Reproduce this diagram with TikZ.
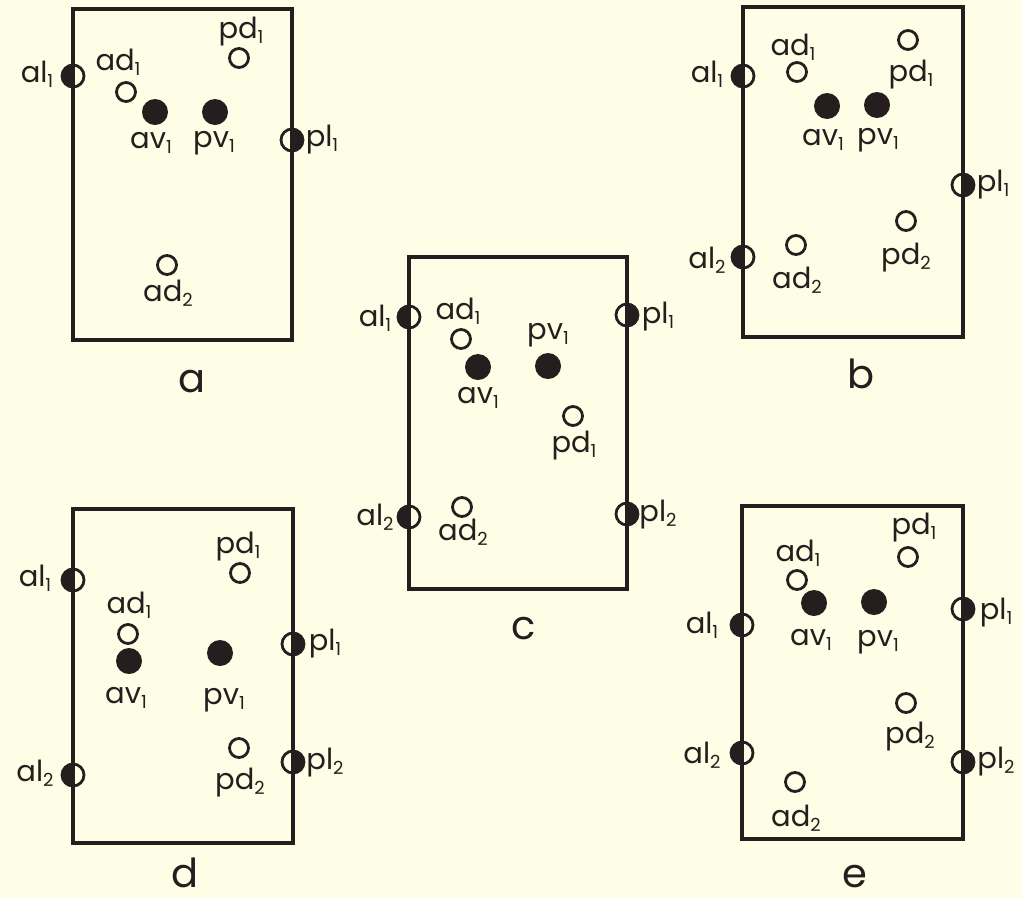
\documentclass[tikz,border=0pt]{standalone}
\usepackage{fontspec}
\setmainfont{Poppins}
\definecolor{bg}{RGB}{254,254,230}
\definecolor{ink}{RGB}{38,30,30}
\newcommand\sbs[1]{\raisebox{-0.3ex}{\fontsize{18}{18}\selectfont #1}}
\begin{document}
\begin{tikzpicture}[x=1pt,y=-1pt,
  frame/.style={draw=ink,line width=3.2pt},
  opend/.style={circle,draw=ink,line width=2.8pt,minimum size=19pt,inner sep=0pt},
  filledc/.style={circle,fill=ink,minimum size=26pt,inner sep=0pt},
  lhalf/.style={circle,draw=ink,line width=2.8pt,minimum size=22pt,inner sep=0pt,
    path picture={\fill[ink] (path picture bounding box.north west) rectangle (path picture bounding box.south);}},
  rhalf/.style={circle,draw=ink,line width=2.8pt,minimum size=22pt,inner sep=0pt,
    path picture={\fill[ink] (path picture bounding box.north) rectangle (path picture bounding box.south east);}},
  lab/.style={inner sep=0pt,text=ink,font=\fontsize{29}{32}\selectfont},
  captext/.style={inner sep=0pt,anchor=base,text=ink,font=\fontsize{40}{44}\selectfont}]
\fill[bg] (0,0) rectangle (1022,898);
\useasboundingbox (0,0) rectangle (1022,898);

% ---------- panel a ----------
\draw[frame] (73,9) rectangle (292,340);
\node[lhalf] (a-al1) at (73,76) {};
\node[opend] (a-ad1) at (126,92) {};
\node[filledc] (a-av1) at (155,112) {};
\node[filledc] (a-pv1) at (215,112) {};
\node[opend] (a-pd1) at (239,58) {};
\node[rhalf] (a-pl1) at (292,140) {};
\node[opend] (a-ad2) at (167,265) {};
\node[lab] (a-l-al1) at (37,74) {al\sbs{1}};
\node[lab] (a-l-ad1) at (118,62) {ad\sbs{1}};
\node[lab] (a-l-av1) at (151,143) {av\sbs{1}};
\node[lab] (a-l-pv1) at (214,143) {pv\sbs{1}};
\node[lab] (a-l-pd1) at (241,32) {pd\sbs{1}};
\node[lab] (a-l-pl1) at (322,140) {pl\sbs{1}};
\node[lab] (a-l-ad2) at (168,293) {ad\sbs{2}};
\node[captext] (a-cap) at (192,392) {a};

% ---------- panel b ----------
\draw[frame] (743,7) rectangle (963,337);
\node[lhalf] (b-al1) at (743,76) {};
\node[opend] (b-ad1) at (797,72) {};
\node[opend] (b-pd1) at (908,40) {};
\node[filledc] (b-av1) at (827,106) {};
\node[filledc] (b-pv1) at (877,105) {};
\node[rhalf] (b-pl1) at (963,185) {};
\node[opend] (b-pd2) at (906,221) {};
\node[lhalf] (b-al2) at (743,257) {};
\node[opend] (b-ad2) at (796,245) {};
\node[lab] (b-l-al1) at (707,74) {al\sbs{1}};
\node[lab] (b-l-ad1) at (793,47) {ad\sbs{1}};
\node[lab] (b-l-pd1) at (911,75) {pd\sbs{1}};
\node[lab] (b-l-av1) at (823,140) {av\sbs{1}};
\node[lab] (b-l-pv1) at (878,140) {pv\sbs{1}};
\node[lab] (b-l-pl1) at (993,185) {pl\sbs{1}};
\node[lab] (b-l-pd2) at (906,258) {pd\sbs{2}};
\node[lab] (b-l-al2) at (707,260) {al\sbs{2}};
\node[lab] (b-l-ad2) at (797,280) {ad\sbs{2}};
\node[captext] (b-cap) at (861,388) {b};

% ---------- panel c ----------
\draw[frame] (409,257) rectangle (627,589);
\node[lhalf] (c-al1) at (409,317) {};
\node[opend] (c-ad1) at (461,339) {};
\node[filledc] (c-av1) at (478,367) {};
\node[filledc] (c-pv1) at (548,366) {};
\node[opend] (c-pd1) at (573,416) {};
\node[rhalf] (c-pl1) at (627,315) {};
\node[lhalf] (c-al2) at (409,517) {};
\node[opend] (c-ad2) at (462,507) {};
\node[rhalf] (c-pl2) at (627,514) {};
\node[lab] (c-l-al1) at (375,318) {al\sbs{1}};
\node[lab] (c-l-ad1) at (458,311) {ad\sbs{1}};
\node[lab] (c-l-av1) at (478,398) {av\sbs{1}};
\node[lab] (c-l-pv1) at (548,335) {pv\sbs{1}};
\node[lab] (c-l-pd1) at (574,446) {pd\sbs{1}};
\node[lab] (c-l-pl1) at (658,317) {pl\sbs{1}};
\node[lab] (c-l-al2) at (375,517) {al\sbs{2}};
\node[lab] (c-l-ad2) at (463,532) {ad\sbs{2}};
\node[lab] (c-l-pl2) at (658,515) {pl\sbs{2}};
\node[captext] (c-cap) at (524,639) {c};

% ---------- panel d ----------
\draw[frame] (73,509) rectangle (293,843);
\node[lhalf] (d-al1) at (73,580) {};
\node[opend] (d-ad1) at (128,634) {};
\node[filledc] (d-av1) at (129,661) {};
\node[filledc] (d-pv1) at (220,653) {};
\node[opend] (d-pd1) at (240,573) {};
\node[rhalf] (d-pl1) at (293,644) {};
\node[opend] (d-pd2) at (239,748) {};
\node[rhalf] (d-pl2) at (293,762) {};
\node[lhalf] (d-al2) at (73,775) {};
\node[lab] (d-l-al1) at (35,578) {al\sbs{1}};
\node[lab] (d-l-ad1) at (129,605) {ad\sbs{1}};
\node[lab] (d-l-av1) at (126,698) {av\sbs{1}};
\node[lab] (d-l-pv1) at (224,700) {pv\sbs{1}};
\node[lab] (d-l-pd1) at (238,547) {pd\sbs{1}};
\node[lab] (d-l-pl1) at (325,644) {pl\sbs{1}};
\node[lab] (d-l-pd2) at (240,783) {pd\sbs{2}};
\node[lab] (d-l-pl2) at (325,763) {pl\sbs{2}};
\node[lab] (d-l-al2) at (35,773) {al\sbs{2}};
\node[captext] (d-cap) at (185,887) {d};

% ---------- panel e ----------
\draw[frame] (742,506) rectangle (963,839);
\node[opend] (e-pd1) at (908,557) {};
\node[opend] (e-ad1) at (797,580) {};
\node[filledc] (e-av1) at (814,603) {};
\node[filledc] (e-pv1) at (874,602) {};
\node[rhalf] (e-pl1) at (963,609) {};
\node[lhalf] (e-al1) at (742,625) {};
\node[opend] (e-pd2) at (906,703) {};
\node[lhalf] (e-al2) at (742,753) {};
\node[rhalf] (e-pl2) at (963,762) {};
\node[opend] (e-ad2) at (795,782) {};
\node[lab] (e-l-pd1) at (914,528) {pd\sbs{1}};
\node[lab] (e-l-ad1) at (798,553) {ad\sbs{1}};
\node[lab] (e-l-av1) at (811,640) {av\sbs{1}};
\node[lab] (e-l-pv1) at (878,642) {pv\sbs{1}};
\node[lab] (e-l-pl1) at (996,613) {pl\sbs{1}};
\node[lab] (e-l-al1) at (702,625) {al\sbs{1}};
\node[lab] (e-l-pd2) at (910,737) {pd\sbs{2}};
\node[lab] (e-l-al2) at (702,755) {al\sbs{2}};
\node[lab] (e-l-pl2) at (996,762) {pl\sbs{2}};
\node[lab] (e-l-ad2) at (796,818) {ad\sbs{2}};
\node[captext] (e-cap) at (855,887) {e};
\end{tikzpicture}
\end{document}
